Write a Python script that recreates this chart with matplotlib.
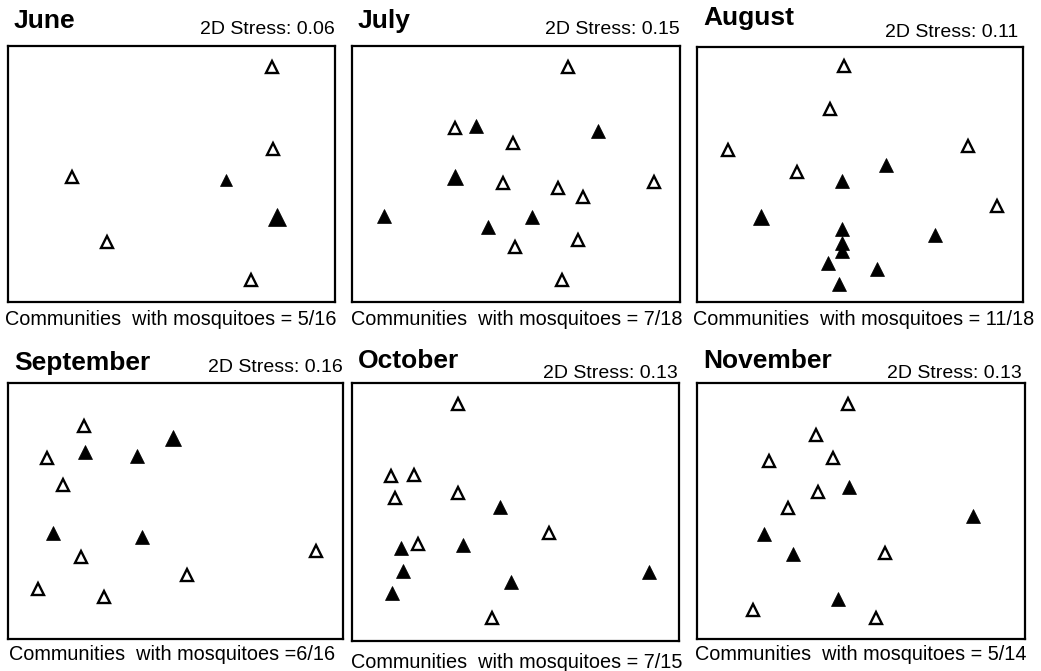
import matplotlib
matplotlib.use("Agg")
import matplotlib.pyplot as plt

# NMDS ordination, one panel per month (coordinates,
# x to the right, y downwards from the top-left corner of each box)
months = ["June", "July", "August", "September", "October", "November"]
stress = ["0.06", "0.15", "0.11", "0.16", "0.13", "0.13"]
captions = ["Communities  with mosquitoes = 5/16",
            "Communities  with mosquitoes = 7/18",
            "Communities  with mosquitoes = 11/18",
            "Communities  with mosquitoes =6/16",
            "Communities  with mosquitoes = 7/15",
            "Communities  with mosquitoes = 5/14"]

# communities without mosquitoes (open triangles)
june_open_x = [264, 265, 64, 99, 243]
june_open_y = [21, 103, 131, 196, 234]
july_open_x = [216, 103, 161, 151, 206, 302, 231, 163, 226, 210]
july_open_y = [21, 82, 97, 137, 142, 136, 151, 201, 194, 234]
aug_open_x = [147, 133, 31, 271, 100, 300]
aug_open_y = [19, 62, 103, 99, 125, 159]
sep_open_x = [76, 39, 55, 73, 308, 179, 30, 96]
sep_open_y = [43, 75, 102, 174, 168, 192, 206, 214]
oct_open_x = [106, 39, 62, 43, 106, 197, 66, 140]
oct_open_y = [21, 93, 92, 115, 110, 150, 161, 235]
nov_open_x = [151, 119, 72, 136, 121, 91, 188, 56, 179]
nov_open_y = [21, 52, 78, 75, 109, 125, 170, 227, 235]

# communities with mosquitoes (filled triangles) + abundance class
june_fill_x = [218, 269]
june_fill_y = [134, 171]
june_fill_c = [1, 4]
july_fill_x = [124, 246, 103, 32, 180, 136]
july_fill_y = [80, 85, 131, 170, 171, 181]
july_fill_c = [2, 2, 3, 2, 2, 2]
aug_fill_x = [189, 145, 64, 145, 145, 145, 238, 131, 180, 142]
aug_fill_y = [118, 134, 170, 182, 196, 204, 188, 216, 222, 237]
aug_fill_c = [2, 2, 3, 2, 2, 2, 2, 2, 2, 2]
sep_fill_x = [165, 77, 129, 45, 134]
sep_fill_y = [55, 69, 73, 150, 154]
sep_fill_c = [3, 2, 2, 2, 2]
oct_fill_x = [148, 49, 111, 51, 159, 297, 40]
oct_fill_y = [124, 165, 162, 188, 199, 189, 210]
oct_fill_c = [2, 2, 2, 2, 2, 2, 2]
nov_fill_x = [152, 276, 67, 96, 141]
nov_fill_y = [104, 133, 151, 171, 216]
nov_fill_c = [2, 2, 2, 2, 2]

open_pts = [(june_open_x, june_open_y), (july_open_x, july_open_y),
            (aug_open_x, aug_open_y), (sep_open_x, sep_open_y),
            (oct_open_x, oct_open_y), (nov_open_x, nov_open_y)]
fill_pts = [(june_fill_x, june_fill_y, june_fill_c),
            (july_fill_x, july_fill_y, july_fill_c),
            (aug_fill_x, aug_fill_y, aug_fill_c),
            (sep_fill_x, sep_fill_y, sep_fill_c),
            (oct_fill_x, oct_fill_y, oct_fill_c),
            (nov_fill_x, nov_fill_y, nov_fill_c)]

W, H = 1041, 671
# box corners in pixels (left, top, right, bottom)
boxes = [(8, 46, 335, 302), (352, 46, 680, 302), (697, 47, 1023, 302),
         (8, 383, 343, 639), (352, 383, 679, 641), (697, 383, 1025, 639)]
title_pos = [(14, 28), (358, 28), (703, 25), (14, 370), (358, 368), (703, 368)]
stress_pos = [(335, 34), (680, 34), (1018, 37), (343, 372), (678, 378), (1022, 378)]
cap_pos = [(171, 325), (517, 325), (864, 325), (172, 660), (517, 668), (861, 660)]

sizes = {1: 8.0, 2: 9.6, 3: 11.3, 4: 12.7}

plt.rcParams['font.family'] = ['Liberation Sans', 'DejaVu Sans']
fig = plt.figure(figsize=(W / 100, H / 100), dpi=100)

for i in range(6):
    l, t, r, b = boxes[i]
    ax = fig.add_axes([l / W, 1 - b / H, (r - l) / W, (b - t) / H])
    ax.set_xlim(0, r - l)
    ax.set_ylim(b - t, 0)
    ax.set_xticks([])
    ax.set_yticks([])
    for s in ax.spines.values():
        s.set_linewidth(1.6)

    ox, oy = open_pts[i]
    ax.plot(ox, oy, '^', ms=9, mfc='white', mec='black', mew=1.7, ls='none')
    fx, fy, fc = fill_pts[i]
    for x, y, c in zip(fx, fy, fc):
        ax.plot(x, y, '^', ms=sizes[c], mfc='black', mec='black', mew=0.5)

    tx, ty = title_pos[i]
    fig.text(tx / W, 1 - ty / H, months[i], fontsize=19, fontweight='bold',
             va='baseline', ha='left')
    sx, sy = stress_pos[i]
    fig.text(sx / W, 1 - sy / H, "2D Stress: " + stress[i], fontsize=14,
             va='baseline', ha='right')
    cx, cy = cap_pos[i]
    fig.text(cx / W, 1 - cy / H, captions[i], fontsize=14.3,
             va='baseline', ha='center')

fig.savefig("out.png", dpi=100)
